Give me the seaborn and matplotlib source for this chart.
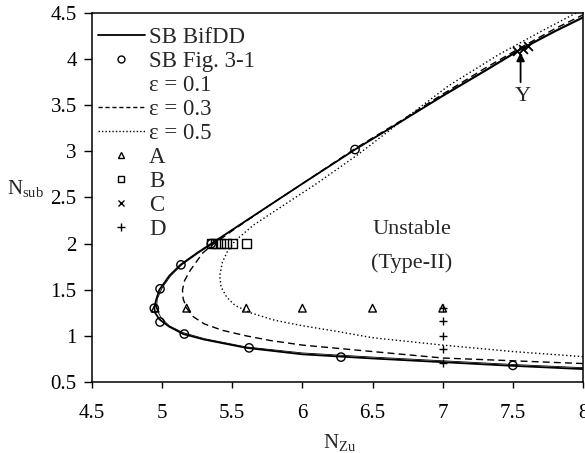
import matplotlib
matplotlib.use("Agg")
import matplotlib.pyplot as plt
from matplotlib.lines import Line2D
import seaborn as sns

# Saddle-node bifurcation boundary (SB) computed with BifDD
sb_bifdd_x = [8.0, 7.5, 7.0, 6.5, 6.0, 5.6, 5.3, 5.15, 5.05, 4.98, 4.95, 4.945,
              4.955, 4.98, 5.05, 5.13, 5.25, 5.35, 5.5, 5.75, 6.0, 6.375, 6.7,
              7.0, 7.3, 7.55, 7.8, 8.0]
sb_bifdd_y = [0.64, 0.675, 0.715, 0.755, 0.80, 0.87, 0.96, 1.02, 1.10, 1.18, 1.25, 1.30,
              1.38, 1.50, 1.65, 1.77, 1.90, 2.00, 2.15, 2.40, 2.65, 3.02, 3.32,
              3.60, 3.87, 4.10, 4.30, 4.45]

# SB points from Fig. 3-1
sb_fig_x = [4.944, 4.985, 5.134, 4.985, 5.158, 5.62, 6.275, 7.50, 6.375, 5.35]
sb_fig_y = [1.30, 1.51, 1.77, 1.15, 1.02, 0.87, 0.77, 0.68, 3.02, 2.00]

# Boundaries for increasing epsilon
eps01_x = [8.0, 7.5, 7.0, 6.5, 6.0, 5.6, 5.3, 5.15, 5.05, 4.99, 4.96, 4.965,
           5.0, 5.06, 5.14, 5.26, 5.36, 5.5, 5.75, 6.0, 6.375, 6.7, 7.0, 7.3,
           7.55, 7.8, 8.0]
eps01_y = [0.655, 0.69, 0.73, 0.77, 0.815, 0.88, 0.97, 1.035, 1.11, 1.20, 1.30, 1.40,
           1.52, 1.65, 1.77, 1.90, 2.00, 2.15, 2.40, 2.65, 3.02, 3.32, 3.61, 3.88,
           4.11, 4.31, 4.46]

eps03_x = [8.0, 7.5, 7.0, 6.5, 6.0, 5.77, 5.6, 5.43, 5.3, 5.22, 5.175, 5.15,
           5.145, 5.16, 5.2, 5.29, 5.37, 5.5, 5.75, 6.0, 6.375, 6.7, 7.0, 7.3,
           7.55, 7.8, 8.0]
eps03_y = [0.70, 0.73, 0.76, 0.83, 0.90, 0.95, 1.00, 1.06, 1.13, 1.21, 1.30, 1.40,
           1.50, 1.60, 1.71, 1.90, 2.00, 2.14, 2.40, 2.65, 3.03, 3.33, 3.62, 3.90,
           4.12, 4.33, 4.48]

eps05_x = [8.0, 7.5, 7.0, 6.5, 6.24, 6.0, 5.8, 5.63, 5.52, 5.46, 5.42, 5.41,
           5.43, 5.47, 5.52, 5.65, 5.85, 6.1, 6.4, 6.7, 7.05, 7.4, 7.7, 7.95]
eps05_y = [0.775, 0.83, 0.90, 0.98, 1.05, 1.11, 1.17, 1.25, 1.33, 1.42, 1.53, 1.65,
           1.80, 1.93, 2.03, 2.20, 2.40, 2.65, 2.97, 3.32, 3.72, 4.05, 4.30, 4.50]

# Operating points A-D
a_x = [4.95, 5.175, 5.6, 6.0, 6.5, 7.0]
a_y = [1.3, 1.3, 1.3, 1.3, 1.3, 1.3]
b_x = [5.35, 5.38, 5.42, 5.46, 5.5, 5.6]
b_y = [2.0, 2.0, 2.0, 2.0, 2.0, 2.0]
c_x = [7.53, 7.57, 7.61]
c_y = [4.09, 4.11, 4.14]
d_x = [7.0, 7.0, 7.0, 7.0, 7.0]
d_y = [1.30, 1.16, 1.00, 0.86, 0.71]

x_ticks = [4.5, 5, 5.5, 6, 6.5, 7, 7.5, 8]
y_ticks = [0.5, 1, 1.5, 2, 2.5, 3, 3.5, 4, 4.5]

sns.set_style("ticks")
plt.rcParams["font.family"] = ["Liberation Serif", "DejaVu Serif"]
plt.rcParams["mathtext.fontset"] = "custom"
plt.rcParams["mathtext.rm"] = "Liberation Serif"
plt.rcParams["mathtext.it"] = "Liberation Serif:italic"

fig = plt.figure(figsize=(5.85, 4.53), dpi=100)
ax = fig.add_axes([92 / 585, 1 - 382 / 453, 491 / 585, 369 / 453])

k = dict(sort=False, estimator=None, color="black", ax=ax, legend=False)
sns.lineplot(x=eps05_x, y=eps05_y, linestyle=(0, (1, 1.8)), linewidth=1.0, **k)
sns.lineplot(x=eps03_x, y=eps03_y, linestyle=(0, (5, 3)), linewidth=1.0, **k)
sns.lineplot(x=eps01_x, y=eps01_y, linestyle="-", linewidth=0.6, **k)
sns.lineplot(x=sb_bifdd_x, y=sb_bifdd_y, linestyle="-", linewidth=1.3, **k)

sns.scatterplot(x=sb_fig_x, y=sb_fig_y, marker="o", s=36, facecolors="none",
                edgecolors="black", linewidth=1.0, ax=ax, legend=False)
sns.scatterplot(x=a_x, y=a_y, marker="^", s=30, facecolors="none",
                edgecolors="black", linewidth=1.0, ax=ax, legend=False)
sns.scatterplot(x=b_x, y=b_y, marker="s", s=40, facecolors="none",
                edgecolors="black", linewidth=1.0, ax=ax, legend=False)
sns.scatterplot(x=c_x, y=c_y, marker="x", s=40, color="black",
                linewidth=1.3, ax=ax, legend=False)
sns.scatterplot(x=d_x, y=d_y, marker="+", s=40, color="black",
                linewidth=1.0, ax=ax, legend=False)

ax.set_xlim(4.5, 8)
ax.set_ylim(0.5, 4.5)
ax.set_xticks(x_ticks)
ax.set_xticklabels([f"{t:g}" for t in x_ticks])
ax.set_yticks(y_ticks)
ax.set_yticklabels([f"{t:g}" for t in y_ticks])
ax.tick_params(axis="x", direction="out", length=4.5, width=1.0,
               labelsize=15, colors="black", pad=11)
ax.tick_params(axis="y", direction="out", length=6, width=1.0,
               labelsize=15, colors="black", pad=5)
for sp in ax.spines.values():
    sp.set_visible(True)
    sp.set_color("black")
    sp.set_linewidth(1.1)

ax.set_xlabel(r"N$_{\mathrm{Zu}}$", fontsize=15, va="center")
ax.set_ylabel(r"N$_{\mathrm{sub}}$", fontsize=15, rotation=0, ha="center", va="center")
ax.xaxis.set_label_coords(0.505, -0.163)
ax.yaxis.set_label_coords(-0.136, 0.525)

ax.text(6.78, 2.15, "Unstable", fontsize=16, ha="center", va="center")
ax.text(6.78, 1.79, "(Type-II)", fontsize=16, ha="center", va="center")
ax.annotate("", xy=(7.555, 4.1), xytext=(7.555, 3.72),
            arrowprops=dict(arrowstyle="-|>", color="black", lw=1.3, mutation_scale=12))
ax.text(7.57, 3.59, "Y", fontsize=16, ha="center", va="center")

handles = [
    Line2D([], [], color="black", linestyle="-", linewidth=1.3),
    Line2D([], [], color="black", linestyle="none", marker="o", markersize=5,
           markerfacecolor="none"),
    Line2D([], [], color="black", linestyle="none"),
    Line2D([], [], color="black", linestyle=(0, (3, 2)), linewidth=1.0),
    Line2D([], [], color="black", linestyle=(0, (1, 1.5)), linewidth=1.0),
    Line2D([], [], color="black", linestyle="none", marker="^", markersize=5,
           markerfacecolor="none"),
    Line2D([], [], color="black", linestyle="none", marker="s", markersize=5,
           markerfacecolor="none"),
    Line2D([], [], color="black", linestyle="none", marker="x", markersize=5),
    Line2D([], [], color="black", linestyle="none", marker="+", markersize=6),
]
labels = ["SB BifDD", "SB Fig. 3-1", "ε = 0.1", "ε = 0.3", "ε = 0.5", "A", "B", "C", "D"]
ax.legend(handles, labels, loc="upper left", bbox_to_anchor=(0.012, 0.963),
          frameon=False, fontsize=16.5, handlelength=2.05, handletextpad=0.18,
          labelspacing=0.13, borderpad=0, borderaxespad=0)

fig.savefig("out.png", dpi=100)
